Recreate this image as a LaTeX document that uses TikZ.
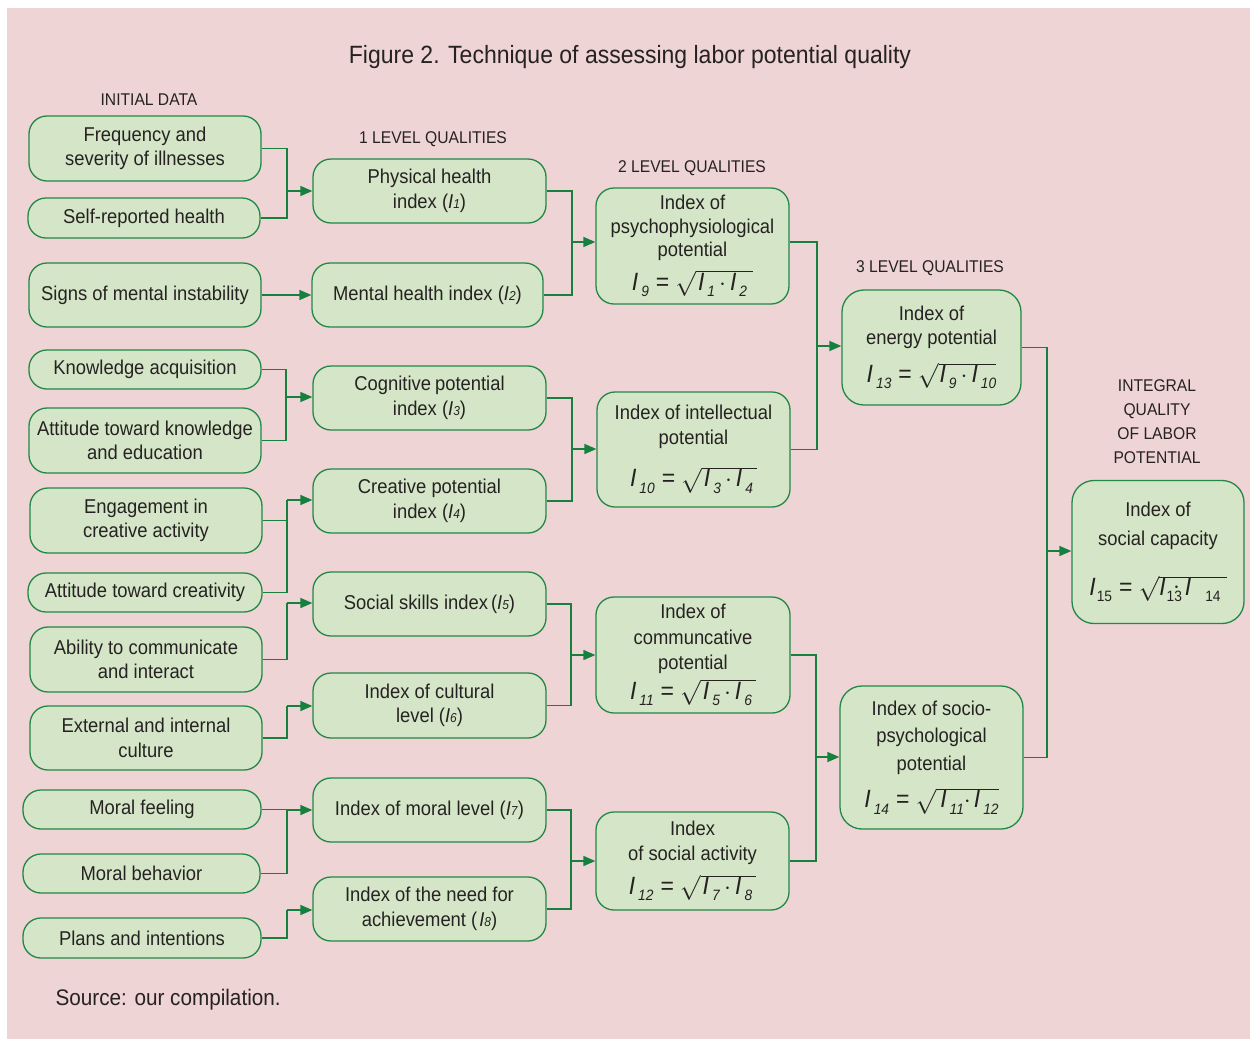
\documentclass[tikz,border=0pt]{standalone}
\usepackage{fontspec}
\setmainfont[FakeStretch=0.92]{Liberation Sans}
\usetikzlibrary{arrows.meta}

\definecolor{bgpink}{RGB}{239,212,213}
\definecolor{boxfill}{RGB}{212,230,199}
\definecolor{boxline}{RGB}{34,136,70}
\definecolor{wirecol}{RGB}{22,128,62}
\definecolor{ink}{RGB}{38,34,34}

% index symbol inside running text, e.g. (I1)
\newcommand\idx[1]{\textit{I}{\fontsize{13}{13}\selectfont\textit{#1}}}
% index symbol inside formulas: large I with lowered subscript
\newcommand\fI[1]{\textit{I}\kern3pt\raisebox{-0.5ex}{\fontsize{15}{15}\selectfont\textit{#1}}}
\newcommand\fIu[1]{\textit{I}\kern1pt\raisebox{-0.5ex}{\fontsize{15}{15}\selectfont #1}}
\newcommand\rt[1]{$\sqrt{\hbox{#1}}$}
\newcommand\frm[1]{{\fontsize{25}{26}\selectfont #1}}
\newcommand\eqs{\hspace{7pt}=\hspace{6pt}}
\newcommand\dt{\hspace{4pt}$\cdot$\hspace{4pt}}

\tikzset{
  box/.style={draw=boxline, fill=boxfill, line width=1.3pt, rounded corners=18pt,
    align=center, text=ink, inner sep=0pt, font=\fontsize{20}{24.5}\selectfont},
  head/.style={text=ink, align=center, font=\fontsize{17}{24}\selectfont},
  wire/.style={draw=wirecol, line width=1.5pt},
  arr/.style={wire, -{Triangle[length=12pt,width=10pt]}}
}

\begin{document}
\begin{tikzpicture}[x=1pt,y=-1pt]
\useasboundingbox (0,0) rectangle (1250,1039);
\fill[white] (0,0) rectangle (1250,1039);
\fill[bgpink] (7,8) rectangle (1250,1039);

% titles and column headings
\node[text=ink, font=\fontsize{25}{30}\selectfont] (title) at (630,57) {Figure 2. Technique of assessing labor potential quality};
\node[head] (h0) at (149,100) {INITIAL DATA};
\node[head] (h1) at (433,139) {1 LEVEL QUALITIES};
\node[head] (h2) at (692,168) {2 LEVEL QUALITIES};
\node[head] (h3) at (930,268) {3 LEVEL QUALITIES};
\node[head] (h4) at (1157,422) {INTEGRAL\\QUALITY\\OF LABOR\\POTENTIAL};
\node[text=ink, anchor=west, font=\fontsize{22.5}{26}\selectfont] (src) at (52,1000) {Source: our compilation.};

% initial data
\node[box, minimum width=232pt, minimum height=65pt] (a1) at (145,148.5) {Frequency and\\severity of illnesses};
\node[box, minimum width=232pt, minimum height=40pt] (a2) at (144,218) {Self-reported health};
\node[box, minimum width=232pt, minimum height=64pt] (a3) at (145,295) {Signs of mental instability};
\node[box, minimum width=232pt, minimum height=39pt] (a4) at (145,369.5) {Knowledge acquisition};
\node[box, minimum width=232pt, minimum height=65pt] (a5) at (145,440.5) {Attitude toward knowledge\\and education};
\node[box, minimum width=232pt, minimum height=65pt] (a6) at (146,520.5) {Engagement in\\creative activity};
\node[box, minimum width=234pt, minimum height=39pt] (a7) at (145,592.5) {Attitude toward creativity};
\node[box, minimum width=232pt, minimum height=65pt] (a8) at (146,659.5) {Ability to communicate\\and interact};
\node[box, minimum width=232pt, minimum height=64pt] (a9) at (146,738) {External and internal\\culture};
\node[box, minimum width=238pt, minimum height=39pt] (a10) at (142,809.5) {Moral feeling};
\node[box, minimum width=237pt, minimum height=39pt] (a11) at (141.5,873.5) {Moral behavior};
\node[box, minimum width=238pt, minimum height=40pt] (a12) at (142,938) {Plans and intentions};

% first level qualities
\node[box, minimum width=233pt, minimum height=64pt] (b1) at (429.5,191) {Physical health\\index (\idx{1})};
\node[box, minimum width=231pt, minimum height=64pt] (b2) at (427.5,295) {Mental health index (\idx{2})};
\node[box, minimum width=233pt, minimum height=64pt] (b3) at (429.5,398) {Cognitive\hspace{4pt}potential\\index (\idx{3})};
\node[box, minimum width=233pt, minimum height=64pt] (b4) at (429.5,501) {Creative potential\\index (\idx{4})};
\node[box, minimum width=233pt, minimum height=64pt] (b5) at (429.5,604) {Social skills index\hspace{3pt}(\idx{5})};
\node[box, minimum width=233pt, minimum height=65pt] (b6) at (429.5,705.5) {Index of cultural\\level (\idx{6})};
\node[box, minimum width=233pt, minimum height=64pt] (b7) at (429.5,810) {Index of moral level (\idx{7})};
\node[box, minimum width=233pt, minimum height=64pt] (b8) at (429.5,909) {Index of the need for\\achievement (\hspace{2pt}\idx{8})};

% second level qualities
\node[box, minimum width=193pt, minimum height=116pt] (c1) at (692.5,246)
  {Index of\\[-1pt]psychophysiological\\[-1pt]potential\\[9pt]\frm{\fI{9}\eqs\rt{\hspace{2pt}\fI{1}\dt\fI{2}\hspace{6pt}}}};
\node[box, minimum width=193pt, minimum height=115pt] (c2) at (693.5,449.5)
  {Index of intellectual\\potential\\[18pt]\frm{\fI{10}\eqs\rt{\hspace{2pt}\fI{3}\dt\fI{4}\hspace{4pt}}}};
\node[box, minimum width=194pt, minimum height=116pt] (c3) at (693,655)
  {Index of\\[1pt]communcative\\[1pt]potential\\[5pt]\frm{\fI{11}\eqs\rt{\hspace{2pt}\fI{5}\dt\fI{6}\hspace{4pt}}}};
\node[box, minimum width=193pt, minimum height=98pt] (c4) at (692.5,861)
  {Index\\[1pt]of social activity\\[9pt]\frm{\fI{12}\eqs\rt{\hspace{2pt}\fI{7}\dt\fI{8}\hspace{4pt}}}};

% third level qualities
\node[box, rounded corners=22pt, minimum width=179pt, minimum height=115pt] (d1) at (931.5,347.5)
  {Index of\\energy potential\\[13pt]\frm{\fI{13}\eqs\rt{\hspace{1pt}\fI{9}\dt\fI{10}}}};
\node[box, rounded corners=22pt, minimum width=183pt, minimum height=143pt] (d2) at (931.5,757.5)
  {Index of socio-\\[3pt]psychological\\[3pt]potential\\[13pt]\frm{\fI{14}\eqs\rt{\hspace{4pt}\fI{11}$\cdot$\hspace{3pt}\fI{12}}}};

% integral quality
\node[box, rounded corners=22pt, minimum width=172pt, minimum height=143pt] (e1) at (1158,552)
  {Index of\\[5pt]social capacity\\[25pt]\frm{\fIu{15}\eqs\rt{\fIu{13}\kern-9pt\raisebox{2pt}{$\cdot$}\kern5pt\textit{I}\hspace{14pt}\raisebox{-0.5ex}{\fontsize{15}{15}\selectfont 14}\hspace{6pt}}}};

% junction points of the connector buses
\coordinate (j1) at (287,191);
\coordinate (j3) at (286,397);
\coordinate (j4) at (287,500);
\coordinate (j5) at (287,603);
\coordinate (j6) at (287,706);
\coordinate (j7) at (287,810);
\coordinate (j8) at (287,910);
\coordinate (k1) at (572,242);
\coordinate (k2) at (572,449);
\coordinate (k3) at (571,655);
\coordinate (k4) at (571,861);
\coordinate (m1) at (817,346);
\coordinate (m2) at (816,757);
\coordinate (n1) at (1047,551);

% initial data -> first level
\draw[wire] (a1.east) -| (j1);
\draw[wire] (a2.east) -| (j1);
\draw[arr] (j1) -- (j1 -| b1.west);
\draw[arr] (a3.east) -- (a3.east -| b2.west);
\draw[wire] (a4.east) -| (j3);
\draw[wire] (a5.east) -| (j3);
\draw[arr] (j3) -- (j3 -| b3.west);
\draw[wire] (a6.east) -| (j4);
\draw[wire] (a7.east) -| (j4);
\draw[arr] (j4) -- (j4 -| b4.west);
\draw[wire] (a8.east) -| (j5);
\draw[arr] (j5) -- (j5 -| b5.west);
\draw[wire] (a9.east) -| (j6);
\draw[arr] (j6) -- (j6 -| b6.west);
\draw[wire] (a10.east) -| (j7);
\draw[wire] (a11.east) -| (j7);
\draw[arr] (j7) -- (j7 -| b7.west);
\draw[wire] (a12.east) -| (j8);
\draw[arr] (j8) -- (j8 -| b8.west);

% first level -> second level
\draw[wire] (b1.east) -| (k1);
\draw[wire] (b2.east) -| (k1);
\draw[arr] (k1) -- (k1 -| c1.west);
\draw[wire] (b3.east) -| (k2);
\draw[wire] (b4.east) -| (k2);
\draw[arr] (k2) -- (k2 -| c2.west);
\draw[wire] (b5.east) -| (k3);
\draw[wire] (b6.east) -| (k3);
\draw[arr] (k3) -- (k3 -| c3.west);
\draw[wire] (b7.east) -| (k4);
\draw[wire] (b8.east) -| (k4);
\draw[arr] (k4) -- (k4 -| c4.west);

% second level -> third level
\draw[wire] (c1.east |- k1) -| (m1);
\draw[wire] (c2.east) -| (m1);
\draw[arr] (m1) -- (m1 -| d1.west);
\draw[wire] (c3.east) -| (m2);
\draw[wire] (c4.east) -| (m2);
\draw[arr] (m2) -- (m2 -| d2.west);

% third level -> integral quality
\draw[wire] (d1.east) -| (n1);
\draw[wire] (d2.east) -| (n1);
\draw[arr] (n1) -- (n1 -| e1.west);
\end{tikzpicture}
\end{document}
